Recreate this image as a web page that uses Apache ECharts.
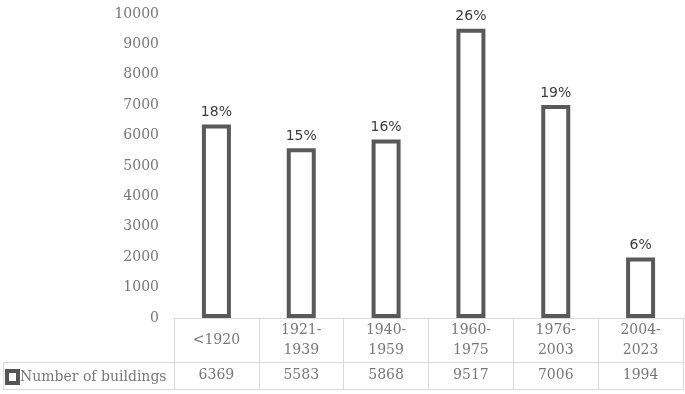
<!DOCTYPE html>
<html><head><meta charset="utf-8">
<script src="https://cdn.jsdelivr.net/npm/echarts@6/dist/echarts.min.js"></script>
<style>html,body{margin:0;padding:0;background:#fff}#c{width:685px;height:394px}</style>
</head><body><div id="c"></div>
<script>
// ---- data ----
const categories = ['<1920', '1921-\n1939', '1940-\n1959', '1960-\n1975', '1976-\n2003', '2004-\n2023'];
const buildings = [6369, 5583, 5868, 9517, 7006, 1994];
const shares = ['18%', '15%', '16%', '26%', '19%', '6%'];
const yMin = 0, yMax = 10000, yInterval = 1000;
const seriesName = 'Number of buildings';

// ---- layout ----
const W = 685, H = 394;
const gridLeft = 174, gridRight = 2, gridTop = 14, gridBottom = 76;
const axisY = H - gridBottom;      // 318
const catRowH = 44, valRowH = 27;
const tableLeft = 3;
const lineColor = '#d9d9d9';
const textGray = '#777';
const serif = 'DejaVu Serif';
const fs = 14;

const chart = echarts.init(document.getElementById('c'), null, {renderer: 'canvas'});
chart.setOption({
  animation: false,
  backgroundColor: '#fff',
  grid: {left: gridLeft, right: gridRight, top: gridTop, bottom: gridBottom},
  legend: {
    left: 5, top: axisY + catRowH + 7, padding: 0,
    itemWidth: 11, itemHeight: 12, itemGap: 4,
    data: [{name: seriesName, icon: 'rect', itemStyle: {color: '#fff', borderColor: '#555', borderWidth: 4}}],
    textStyle: {fontFamily: serif, fontSize: fs, color: textGray, padding: [0, 0, 0, -3]}
  },
  xAxis: [
    {
      type: 'category', data: categories, position: 'bottom',
      axisLine: {show: true, lineStyle: {color: lineColor, width: 1}},
      axisTick: {show: true, length: catRowH + valRowH, lineStyle: {color: lineColor}},
      axisLabel: {fontFamily: serif, fontSize: fs, color: textGray, lineHeight: 20,
                  verticalAlign: 'middle', margin: catRowH / 2, interval: 0}
    },
    {
      type: 'category', data: categories, position: 'bottom', offset: catRowH,
      axisLine: {show: true, lineStyle: {color: lineColor, width: 1}},
      axisTick: {show: false},
      axisLabel: {fontFamily: serif, fontSize: fs, color: textGray,
                  verticalAlign: 'middle', margin: valRowH / 2, interval: 0,
                  formatter: (v, i) => String(buildings[i])}
    },
    {
      type: 'category', data: categories, position: 'bottom', offset: catRowH + valRowH,
      axisLine: {show: true, lineStyle: {color: lineColor, width: 1}},
      axisTick: {show: false}, axisLabel: {show: false}
    }
  ],
  yAxis: {
    type: 'value', min: yMin, max: yMax, interval: yInterval,
    axisLine: {show: false}, axisTick: {show: false}, splitLine: {show: false},
    axisLabel: {fontFamily: serif, fontSize: fs, color: textGray, margin: 15,
                formatter: v => String(v)}
  },
  series: [{
    name: seriesName, type: 'bar', data: buildings, barWidth: 29,
    itemStyle: {color: '#fff', borderColor: '#595959', borderWidth: 4},
    label: {show: true, position: 'top', distance: 5,
            formatter: p => shares[p.dataIndex],
            fontFamily: 'DejaVu Sans', fontSize: 14, color: '#3a3a3a'}
  }],
  graphic: [
    {type: 'line', shape: {x1: tableLeft, y1: axisY + catRowH + 0.5, x2: gridLeft, y2: axisY + catRowH + 0.5},
     style: {stroke: lineColor, lineWidth: 1}},
    {type: 'line', shape: {x1: tableLeft, y1: axisY + catRowH + valRowH + 0.5, x2: gridLeft, y2: axisY + catRowH + valRowH + 0.5},
     style: {stroke: lineColor, lineWidth: 1}},
    {type: 'line', shape: {x1: tableLeft + 0.5, y1: axisY + catRowH, x2: tableLeft + 0.5, y2: axisY + catRowH + valRowH},
     style: {stroke: lineColor, lineWidth: 1}}
  ]
});
</script></body></html>
